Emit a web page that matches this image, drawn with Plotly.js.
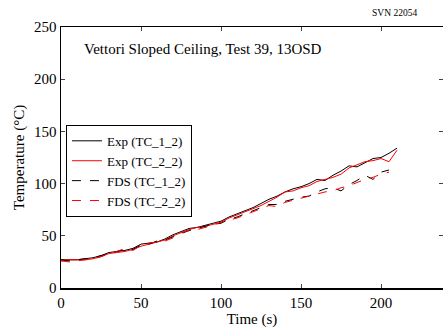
<!DOCTYPE html>
<html><head><meta charset="utf-8">
<script src="https://cdn.plot.ly/plotly-3.0.1.min.js"></script>
<style>html,body{margin:0;padding:0;background:#fff;}</style>
</head><body><div id="chart" style="width:443px;height:328px;"></div>
<script>
const timeExp = [0,5,10,15,20,25,30,35,40,45,50,55,60,65,70,75,80,85,90,95,100,105,110,115,120,125,130,135,140,145,150,155,160,165,170,175,180,185,190,195,200,205,210];
const exp1 = [27,27,27,28,29,31,34,35,36,38,42,43,44,47,51,54,57,58,60,62,64,68,71,74,77,81,85,88,92,95,97,100,104,103,108,112,117,116,120,124,125,129,134];
const exp2 = [26,27,27,27,28,30,33,34,35,37,40,42,44,46,50,53,56,58,59,61,63,67,70,73,76,79,83,87,92,93,96,98,102,104,106,109,115,118,121,122,124,121,132];
const timeFds = [0,5,10,15,20,25,30,35,40,45,50,55,60,65,70,75,80,85,90,95,100,105,110,115,120,125,130,135,140,145,150,155,160,165,170,175,180,185,190,195,200,205];
const fds1 = [27,26,27,28,29,31,33,35,37,37,41,42,45,46,49,52,55,57,59,61,62,66,68,71,74,77,80,80,83,85,87,88,92,95,96,93,99,103,108,104,111,113];
const fds2 = [26,25,26,27,28,30,33,35,38,36,41,43,44,45,48,53,55,56,58,60,63,65,67,70,73,76,79,78,82,84,86,88,90,92,93,96,98,101,104,106,109,111];
const names = ['Exp (TC_1_2)','Exp (TC_2_2)','FDS (TC_1_2)','FDS (TC_2_2)'];
const font = 'Liberation Serif, Times New Roman, serif';
const traces = [
  {x: timeExp, y: exp1, name: names[0], mode:'lines', line:{color:'#000', width:1}},
  {x: timeExp, y: exp2, name: names[1], mode:'lines', line:{color:'#ff0000', width:1}},
  {x: timeFds, y: fds1, name: names[2], mode:'lines', line:{color:'#000', width:1, dash:'dash'}},
  {x: timeFds, y: fds2, name: names[3], mode:'lines', line:{color:'#ff0000', width:1, dash:'dash'}}
];
const layout = {
  width:443, height:328,
  margin:{l:61, r:0, t:27, b:40},
  paper_bgcolor:'#fff', plot_bgcolor:'#fff',
  font:{family:font, size:15, color:'#000'},
  showlegend:true,
  legend:{x:0.013, y:0.625, xanchor:'left', yanchor:'top', bgcolor:'#fff', bordercolor:'#000', borderwidth:1, font:{family:font, size:13}, tracegroupgap:0, itemwidth:30},
  xaxis:{range:[0,238.75], tickvals:[0,50,100,150,200], ticks:'inside', ticklen:4, showline:true, linecolor:'#000', linewidth:1.5, mirror:'ticks', showgrid:false, zeroline:false, tickfont:{size:15},
    title:{text:'Time (s)', font:{size:15}, standoff:2}},
  yaxis:{range:[0,250], tickvals:[0,50,100,150,200,250], ticks:'inside', ticklen:4, showline:true, linecolor:'#000', linewidth:1.5, mirror:'ticks', showgrid:false, zeroline:false, tickfont:{size:15},
    title:{text:'Temperature (°C)', font:{size:15}, standoff:6}},
  annotations:[
    {xref:'paper', yref:'paper', x:0.055, y:0.915, xanchor:'left', yanchor:'middle', text:'Vettori Sloped Ceiling, Test 39, 13OSD', showarrow:false, font:{size:15}},
    {xref:'paper', yref:'paper', x:0.874, y:1.055, xanchor:'center', yanchor:'middle', text:'SVN 22054', showarrow:false, font:{size:9.5}}
  ]
};
Plotly.newPlot('chart', traces, layout, {staticPlot:true, displayModeBar:false});
</script></body></html>
